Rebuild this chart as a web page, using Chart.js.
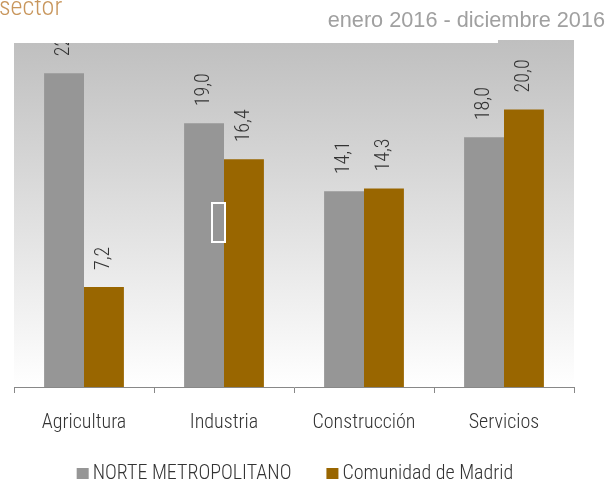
<!DOCTYPE html>
<html>
<head>
<meta charset="utf-8">
<script src="https://cdn.jsdelivr.net/npm/chart.js@4.4.1/dist/chart.umd.min.js"></script>
<style>
  html, body { margin: 0; padding: 0; background: #fff; }
  #wrap { width: 611px; height: 483px; position: relative; }
</style>
</head>
<body>
<div id="wrap"><canvas id="chart" width="611" height="483"></canvas></div>
<script>
// data
const categories = ['Agricultura', 'Industria', 'Construcción', 'Servicios'];
const seriesNames = ['NORTE METROPOLITANO', 'Comunidad de Madrid'];
const norteValues = [22.6, 19.0, 14.1, 18.0];
const madridValues = [7.2, 16.4, 14.3, 20.0];
const titleText = 'sector';
const periodText = 'enero 2016 - diciembre 2016';

const NARROW = "'Roboto Condensed', 'DejaVu Sans Condensed', sans-serif";
const GRAY = '#969696';
const BROWN = '#996600';

// gradient behind the plot, grey on top fading to white
const plotBackground = {
    id: 'plotBackground',
    beforeDraw(chart) {
        const { ctx, chartArea: a } = chart;
        const g = ctx.createLinearGradient(0, a.top, 0, a.bottom);
        g.addColorStop(0, '#bfbfbf');
        g.addColorStop(1, '#ffffff');
        ctx.save();
        ctx.fillStyle = g;
        ctx.fillRect(a.left, a.top, a.right - a.left, a.bottom - a.top);
        ctx.restore();
    }
};

// rotated value labels, legend, title texts and the leftover overlay pieces
const decorations = {
    id: 'decorations',
    afterDatasetsDraw(chart) {
        const { ctx, chartArea: a } = chart;
        ctx.save();
        ctx.beginPath();
        ctx.rect(a.left, a.top, a.right - a.left, a.bottom - a.top);
        ctx.clip();
        ctx.font = '300 20px ' + NARROW;
        ctx.fillStyle = '#333333';
        ctx.textAlign = 'left';
        ctx.textBaseline = 'middle';
        chart.data.datasets.forEach((ds, i) => {
            chart.getDatasetMeta(i).data.forEach((bar, j) => {
                ctx.save();
                ctx.translate(bar.x, bar.y - 17);
                ctx.rotate(-Math.PI / 2);
                ctx.fillText(ds.data[j].toFixed(1).replace('.', ','), 0, 0);
                ctx.restore();
            });
        });
        ctx.restore();

        ctx.save();
        // white strip over the top of the plot (left of the last group)
        ctx.fillStyle = '#ffffff';
        ctx.fillRect(0, 0, 498, 43);
        // stray outlined box over the Industria bar
        ctx.strokeStyle = '#ffffff';
        ctx.lineWidth = 2;
        ctx.strokeRect(212, 203, 13, 39);

        ctx.fillStyle = '#c8965c';
        ctx.font = '300 26px ' + NARROW;
        ctx.textAlign = 'left';
        ctx.textBaseline = 'alphabetic';
        ctx.fillText(titleText, -1, 15);

        ctx.fillStyle = '#a0a0a0';
        ctx.font = '21.7px "Liberation Sans", Arial, sans-serif';
        ctx.textAlign = 'right';
        ctx.fillText(periodText, 605, 27);

        // legend
        ctx.font = '300 20px ' + NARROW;
        ctx.textAlign = 'left';
        ctx.textBaseline = 'middle';
        const box = 12, gap = 4, spacing = 35, ly = 474;
        const items = chart.data.datasets.map(ds => ({
            text: ds.label, color: ds.backgroundColor, w: ctx.measureText(ds.label).width
        }));
        const total = items.reduce((s, it) => s + box + gap + it.w, 0) + spacing * (items.length - 1);
        let lx = (a.left + a.right) / 2 - total / 2 + 1;
        items.forEach(it => {
            ctx.fillStyle = it.color;
            ctx.fillRect(lx, ly - 6, box, 11);
            ctx.fillStyle = '#333333';
            ctx.fillText(it.text, lx + box + gap, ly);
            lx += box + gap + it.w + spacing;
        });
        ctx.restore();
    }
};

new Chart(document.getElementById('chart').getContext('2d'), {
    type: 'bar',
    data: {
        labels: categories,
        datasets: [
            { label: seriesNames[0], data: norteValues, backgroundColor: GRAY },
            { label: seriesNames[1], data: madridValues, backgroundColor: BROWN }
        ]
    },
    options: {
        responsive: false,
        animation: false,
        devicePixelRatio: 1,
        categoryPercentage: 0.57,
        barPercentage: 1.0,
        layout: { padding: { left: 14, right: 37, top: 40, bottom: 30 } },
        plugins: {
            legend: { display: false },
            tooltip: { enabled: false }
        },
        scales: {
            y: { display: false, min: 0, max: 25 },
            x: {
                grid: {
                    offset: true,
                    drawOnChartArea: false,
                    color: '#888888',
                    tickLength: 6
                },
                border: { color: '#888888' },
                ticks: {
                    color: '#333333',
                    font: { family: NARROW, size: 20, weight: 300 },
                    padding: 18
                }
            }
        }
    },
    plugins: [plotBackground, decorations]
});
</script>
</body>
</html>
